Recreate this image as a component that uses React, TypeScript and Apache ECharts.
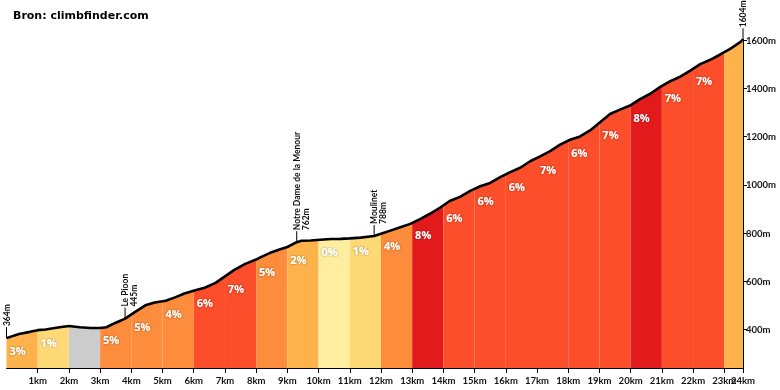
import React, { useEffect, useRef } from 'react';
import * as echarts from 'echarts';

// Elevation profile (distance in km, elevation in m)
const profileKm = [
  0, 0.4, 0.75, 1.0, 1.25, 1.7, 2.0, 2.35, 2.7, 3.0, 3.2, 3.5, 3.8, 4.1, 4.45, 4.75, 5.1, 5.4, 5.7, 6.05,
  6.35, 6.7, 7.0, 7.3, 7.65, 8.0, 8.15, 8.45, 8.77, 9.0, 9.3, 9.45, 9.75, 10.05, 10.4, 10.7, 11.0, 11.35,
  11.78, 12.0, 12.3, 12.62, 12.94, 13.25, 13.57, 13.9, 14.2, 14.53, 14.86, 15.18, 15.5, 15.82, 16.14,
  16.46, 16.78, 17.1, 17.42, 17.74, 18.06, 18.38, 18.7, 19.02, 19.34, 19.66, 19.98, 20.3, 20.63, 20.95,
  21.27, 21.59, 21.91, 22.23, 22.55, 22.87, 23.19, 23.51, 23.6,
];
const profileElev = [
  364, 381, 390, 397, 400, 409, 414, 409, 406, 406, 409, 428, 445, 471, 500, 512, 519, 533, 549, 563,
  573, 593, 620, 647, 672, 690, 700, 718, 733, 742, 762, 768, 769, 772, 775, 776, 778, 781,
  788, 797, 810, 824, 838, 858, 880, 906, 933, 950, 975, 994, 1008, 1032, 1053,
  1071, 1098, 1118, 1140, 1167, 1187, 1201, 1226, 1260, 1294, 1312, 1329, 1356, 1378, 1407,
  1430, 1449, 1474, 1501, 1519, 1541, 1564, 1592, 1604,
];

// Per-km segments
const segmentStartKm = [0, 1, 2, 3, 4, 5, 6, 7, 8, 9, 10, 11, 12, 13, 14, 15, 16, 17, 18, 19, 20, 21, 22, 23];
const segmentEndKm = [1, 2, 3, 4, 5, 6, 7, 8, 9, 10, 11, 12, 13, 14, 15, 16, 17, 18, 19, 20, 21, 22, 23, 23.6];
const segmentGrade: (number | null)[] = [3, 1, null, 5, 5, 4, 6, 7, 5, 2, 0, 1, 4, 8, 6, 6, 6, 7, 6, 7, 8, 7, 7, null];

// Waypoints
const waypointKm = [0, 3.8, 9.3, 11.78, 23.6];
const waypointElev = [364, 445, 762, 788, 1604];
const waypointName = ['', 'Le Pioon', 'Notre Dame de la Menour', 'Moulinet', ''];

// Axis ticks
const xTickKm = [1, 2, 3, 4, 5, 6, 7, 8, 9, 10, 11, 12, 13, 14, 15, 16, 17, 18, 19, 20, 21, 22, 23];
const xEndKm = [23.6];
const yTickM = [400, 600, 800, 1000, 1200, 1400, 1600];

const titleText = 'Bron: climbfinder.com';

// Styles
const segmentColor = [
  '#FEB24C', '#FED976', '#CCCCCC', '#FD8D3C', '#FD8D3C', '#FD8D3C', '#FC4E2A', '#FC4E2A', '#FD8D3C',
  '#FEB24C', '#FFEDA0', '#FED976', '#FD8D3C', '#E31A1C', '#FC4E2A', '#FC4E2A', '#FC4E2A', '#FC4E2A',
  '#FC4E2A', '#FC4E2A', '#E31A1C', '#FC4E2A', '#FC4E2A', '#FEB24C',
];
const Y_MIN = 240;
const Y_MAX = 1604;
const X_MAX = 23.6;

function elevAt(km: number): number {
  if (km <= profileKm[0]) return profileElev[0];
  for (let i = 1; i < profileKm.length; i++) {
    if (km <= profileKm[i]) {
      const t = (km - profileKm[i - 1]) / (profileKm[i] - profileKm[i - 1]);
      return profileElev[i - 1] + t * (profileElev[i] - profileElev[i - 1]);
    }
  }
  return profileElev[profileElev.length - 1];
}

export default function App() {
  const ref = useRef<HTMLDivElement>(null);
  useEffect(() => {
    if (!ref.current) return;
    const chart = echarts.init(ref.current, undefined, { renderer: 'svg' });
    const labelFont = 'Lato, "Open Sans", sans-serif';
    const xLabel = {
      margin: 7,
      fontSize: 9.5,
      fontWeight: 'bold',
      fontFamily: labelFont,
      color: '#111',
      hideOverlap: false,
      formatter: (v: number) => (v === 0 ? '' : Math.round(v) + 'km'),
    };
    const option: any = {
      animation: false,
      title: {
        text: titleText,
        left: 8,
        top: 5,
        textStyle: { fontSize: 11, fontWeight: 'bold', fontFamily: '"DejaVu Sans", sans-serif', color: '#000' },
      },
      grid: { left: 6.5, right: 37, top: 39.3, bottom: 22 },
      xAxis: [
        {
          type: 'value',
          position: 'bottom',
          min: 0,
          max: X_MAX,
          interval: 1,
          axisLine: { show: true, onZero: false, lineStyle: { color: '#000', width: 1 } },
          axisTick: { show: true, length: 5, customValues: xTickKm, lineStyle: { color: '#000' } },
          splitLine: { show: false },
          axisLabel: { ...xLabel, customValues: xTickKm, showMaxLabel: true, showMinLabel: true },
        },
        {
          type: 'value',
          position: 'bottom',
          offset: 0,
          min: 0,
          max: X_MAX,
          interval: 1,
          axisLine: { show: false, onZero: false },
          axisTick: { show: true, length: 5, customValues: xEndKm, lineStyle: { color: '#000' } },
          splitLine: { show: false },
          axisLabel: { ...xLabel, customValues: xEndKm, showMaxLabel: true, showMinLabel: true },
        },
      ],
      yAxis: {
        type: 'value',
        position: 'right',
        min: Y_MIN,
        max: Y_MAX,
        minInterval: 200,
        maxInterval: 200,
        axisLine: { show: true, onZero: false, lineStyle: { color: '#000', width: 1 } },
        axisTick: { show: true, length: 4, customValues: yTickM, lineStyle: { color: '#000' } },
        splitLine: { show: false },
        axisLabel: {
          customValues: yTickM,
          showMaxLabel: true,
          showMinLabel: true,
          margin: 3,
          fontSize: 9.5,
          fontWeight: 'bold',
          fontFamily: labelFont,
          color: '#111',
          formatter: (v: number) => v + 'm',
        },
      },
      series: [
        {
          type: 'custom',
          z: 1,
          xAxisIndex: 0,
          data: segmentStartKm.map((s, i) => [s, segmentEndKm[i]]),
          renderItem: (params: any, api: any) => {
            const idx = params.dataIndex;
            const s = api.value(0);
            const e = api.value(1);
            const pts: number[][] = [];
            pts.push(api.coord([s, Y_MIN]));
            pts.push(api.coord([s, elevAt(s)]));
            profileKm.forEach((k, i) => {
              if (k > s && k < e) pts.push(api.coord([k, profileElev[i]]));
            });
            pts.push(api.coord([e, elevAt(e)]));
            pts.push(api.coord([e, Y_MIN]));
            const children: any[] = [
              { type: 'polygon', shape: { points: pts }, style: { fill: segmentColor[idx] } },
            ];
            const g = segmentGrade[idx];
            if (g !== null) {
              const p = api.coord([s, elevAt(s)]);
              children.push({
                type: 'text',
                x: p[0] + 11,
                y: p[1] + 12,
                z2: 10,
                style: {
                  text: g + '%',
                  fill: '#fff',
                  fontSize: 11,
                  fontWeight: 'bold',
                  fontFamily: '"Open Sans", sans-serif',
                  align: 'center',
                  verticalAlign: 'middle',
                  textShadowColor: 'rgba(0,0,0,0.45)',
                  textShadowBlur: 2,
                },
              });
            }
            return { type: 'group', children };
          },
        },
        {
          type: 'line',
          z: 3,
          xAxisIndex: 0,
          data: profileKm.map((k, i) => [k, profileElev[i]]),
          showSymbol: false,
          symbol: 'none',
          lineStyle: { color: '#000', width: 2.6 },
          silent: true,
        },
        {
          type: 'custom',
          z: 4,
          xAxisIndex: 0,
          data: waypointKm.map((k, i) => [k, waypointElev[i]]),
          renderItem: (params: any, api: any) => {
            const i = params.dataIndex;
            const p = api.coord([api.value(0), api.value(1)]);
            const top = p[1] - 11;
            const name = waypointName[i];
            const text = name ? name + '\n' + waypointElev[i] + 'm' : waypointElev[i] + 'm';
            const lh = 9;
            return {
              type: 'group',
              children: [
                { type: 'line', shape: { x1: p[0], y1: p[1], x2: p[0], y2: top }, style: { stroke: '#000', lineWidth: 1 } },
                {
                  type: 'text',
                  x: p[0] - lh / 2,
                  y: top - 1,
                  rotation: Math.PI / 2,
                  style: {
                    text,
                    fill: '#111',
                    fontSize: 8.5,
                    fontWeight: 'bold',
                    fontFamily: labelFont,
                    lineHeight: lh,
                    align: 'left',
                    verticalAlign: 'top',
                  },
                },
              ],
            };
          },
        },
      ],
    };
    chart.setOption(option);
    return () => chart.dispose();
  }, []);
  return <div ref={ref} style={{ position: 'fixed', left: 0, top: 0, width: 780, height: 390 }} />;
}
